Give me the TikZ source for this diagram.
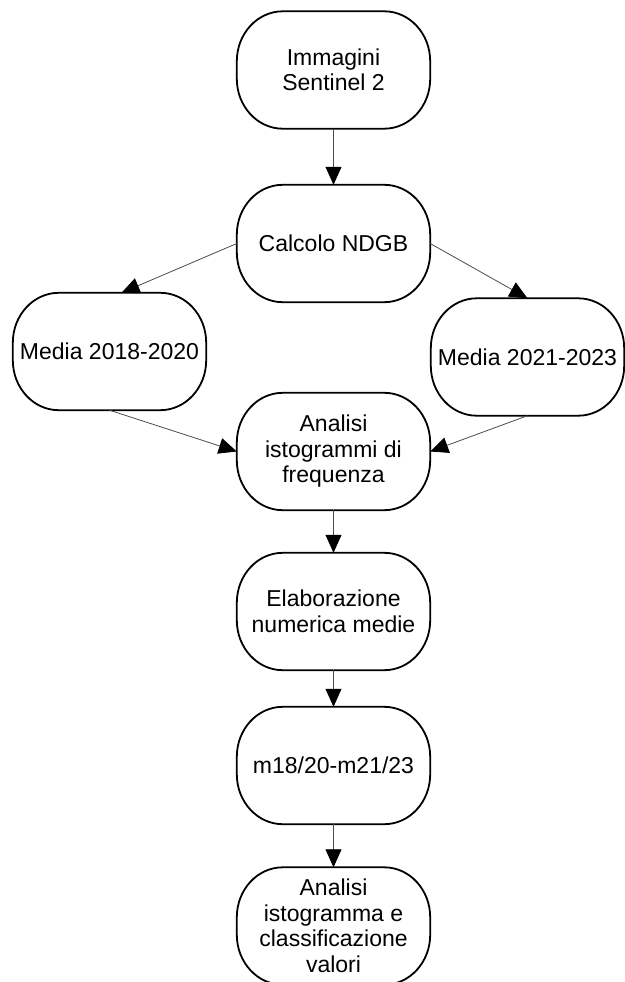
\documentclass[tikz,border=0pt]{standalone}
\usepackage{fontspec}
\setmainfont{Liberation Sans}
\usetikzlibrary{arrows.meta,calc}
\newcommand\pillborder[1]{%
  \draw[border] ($(#1.north west)+(46,0)$) -- ($(#1.north east)+(-46,0)$)
    arc[start angle=90,end angle=0,x radius=46,y radius=50]
    -- ($(#1.south east)+(0,50)$)
    arc[start angle=0,end angle=-90,x radius=46,y radius=50]
    -- ($(#1.south west)+(46,0)$)
    arc[start angle=270,end angle=180,x radius=46,y radius=50]
    -- ($(#1.north west)+(0,-50)$)
    arc[start angle=180,end angle=90,x radius=46,y radius=50] -- cycle;}
\begin{document}
\begin{tikzpicture}[x=1pt,y=1pt,
  box/.style={minimum width=193pt,minimum height=117pt,inner sep=0pt,align=center,
    font=\fontsize{23}{25.5}\selectfont},
  border/.style={draw=black,line width=1.8pt},
  conn/.style={draw=black!70,line width=0.8pt,-{Triangle[length=18pt,width=16pt,color=black]}}]
\useasboundingbox (0,0) rectangle (624,-982);
\node[box] (n1) at (333.5,-70) {Immagini\\Sentinel 2};
\node[box] (n2) at (333.5,-243.5) {Calcolo NDGB};
\node[box] (m1) at (109.5,-351.5) {Media 2018-2020};
\node[box] (m2) at (527.5,-357) {Media 2021-2023};
\node[box] (a1) at (333.5,-451.5) {Analisi\\istogrammi di\\frequenza};
\node[box] (e1) at (333.5,-611.5) {Elaborazione\\numerica medie};
\node[box] (d1) at (333.5,-765.5) {m18/20-m21/23};
\node[box] (f1) at (333.5,-926) {Analisi\\istogramma e\\classificazione\\valori};
\foreach \nn in {n1,n2,m1,m2,a1,e1,d1,f1} {\pillborder{\nn}}
\draw[conn] (n1.south) -- (n2.north);
\draw[conn] (n2.west) -- ($(m1.north)+(12,0)$);
\draw[conn] (n2.east) -- (m2.north);
\draw[conn] (m1.south) -- (a1.west);
\draw[conn] (m2.south) -- (a1.east);
\draw[conn] (a1.south) -- (e1.north);
\draw[conn] (e1.south) -- (d1.north);
\draw[conn] (d1.south) -- (f1.north);
\end{tikzpicture}
\end{document}
